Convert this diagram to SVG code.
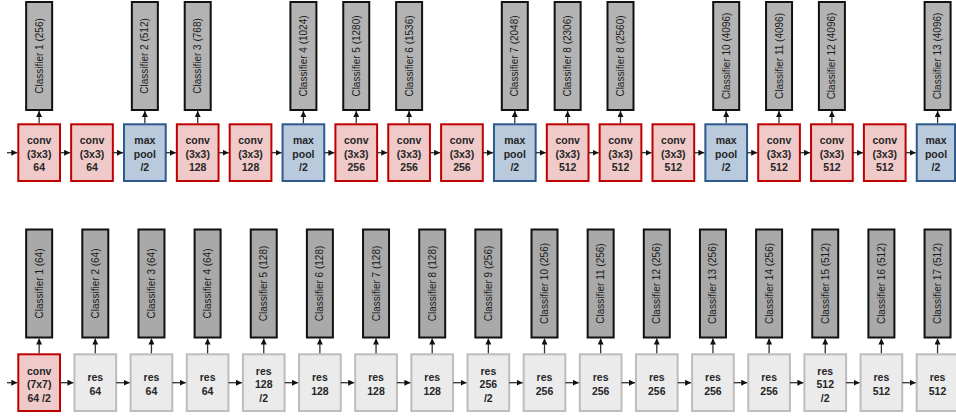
<svg xmlns="http://www.w3.org/2000/svg" width="956" height="417" viewBox="0 0 956 417">
<style>
.conv{fill:#f0c9c9;stroke:#c00000;stroke-width:2}
.pool{fill:#b9cadd;stroke:#2c5a8c;stroke-width:2}
.res{fill:#ebebeb;stroke:#bdbdbd;stroke-width:2}
.cls{fill:#b3b3b3;stroke:#111;stroke-width:2}
.cls2{fill:#a9a9a9;stroke:#111;stroke-width:2}
.lbl{font-family:"Liberation Sans",Arial,sans-serif;font-weight:bold;font-size:10.5px;fill:#262626;text-anchor:middle}
.ct{font-family:"Liberation Sans",Arial,sans-serif;font-size:10px;fill:#1a1a1a;text-anchor:middle}
.c{stroke:#333;stroke-width:1.3;fill:none;marker-end:url(#ah)}
</style>
<defs>
<marker id="ah" markerUnits="userSpaceOnUse" markerWidth="6" markerHeight="6" refX="6" refY="3" orient="auto">
<path d="M0,0 L6,3 L0,6 z" fill="#111"/>
</marker>
</defs>

<g id="top-row">
<g id="t0"><rect class="conv" x="18.3" y="124.3" width="41.7" height="56.7"/><text class="lbl" x="39.15" y="144">conv</text><text class="lbl" x="39.15" y="157.5">(3x3)</text><text class="lbl" x="39.15" y="171">64</text></g>
<g id="t1"><rect class="conv" x="71.15" y="124.3" width="41.7" height="56.7"/><text class="lbl" x="92" y="144">conv</text><text class="lbl" x="92" y="157.5">(3x3)</text><text class="lbl" x="92" y="171">64</text></g>
<g id="t2"><rect class="pool" x="124" y="124.3" width="41.7" height="56.7"/><text class="lbl" x="144.85" y="144">max</text><text class="lbl" x="144.85" y="157.5">pool</text><text class="lbl" x="144.85" y="171">/2</text></g>
<g id="t3"><rect class="conv" x="176.85" y="124.3" width="41.7" height="56.7"/><text class="lbl" x="197.7" y="144">conv</text><text class="lbl" x="197.7" y="157.5">(3x3)</text><text class="lbl" x="197.7" y="171">128</text></g>
<g id="t4"><rect class="conv" x="229.7" y="124.3" width="41.7" height="56.7"/><text class="lbl" x="250.55" y="144">conv</text><text class="lbl" x="250.55" y="157.5">(3x3)</text><text class="lbl" x="250.55" y="171">128</text></g>
<g id="t5"><rect class="pool" x="282.55" y="124.3" width="41.7" height="56.7"/><text class="lbl" x="303.4" y="144">max</text><text class="lbl" x="303.4" y="157.5">pool</text><text class="lbl" x="303.4" y="171">/2</text></g>
<g id="t6"><rect class="conv" x="335.4" y="124.3" width="41.7" height="56.7"/><text class="lbl" x="356.25" y="144">conv</text><text class="lbl" x="356.25" y="157.5">(3x3)</text><text class="lbl" x="356.25" y="171">256</text></g>
<g id="t7"><rect class="conv" x="388.25" y="124.3" width="41.7" height="56.7"/><text class="lbl" x="409.1" y="144">conv</text><text class="lbl" x="409.1" y="157.5">(3x3)</text><text class="lbl" x="409.1" y="171">256</text></g>
<g id="t8"><rect class="conv" x="441.1" y="124.3" width="41.7" height="56.7"/><text class="lbl" x="461.95" y="144">conv</text><text class="lbl" x="461.95" y="157.5">(3x3)</text><text class="lbl" x="461.95" y="171">256</text></g>
<g id="t9"><rect class="pool" x="493.95" y="124.3" width="41.7" height="56.7"/><text class="lbl" x="514.8" y="144">max</text><text class="lbl" x="514.8" y="157.5">pool</text><text class="lbl" x="514.8" y="171">/2</text></g>
<g id="t10"><rect class="conv" x="546.8" y="124.3" width="41.7" height="56.7"/><text class="lbl" x="567.65" y="144">conv</text><text class="lbl" x="567.65" y="157.5">(3x3)</text><text class="lbl" x="567.65" y="171">512</text></g>
<g id="t11"><rect class="conv" x="599.65" y="124.3" width="41.7" height="56.7"/><text class="lbl" x="620.5" y="144">conv</text><text class="lbl" x="620.5" y="157.5">(3x3)</text><text class="lbl" x="620.5" y="171">512</text></g>
<g id="t12"><rect class="conv" x="652.5" y="124.3" width="41.7" height="56.7"/><text class="lbl" x="673.35" y="144">conv</text><text class="lbl" x="673.35" y="157.5">(3x3)</text><text class="lbl" x="673.35" y="171">512</text></g>
<g id="t13"><rect class="pool" x="705.35" y="124.3" width="41.7" height="56.7"/><text class="lbl" x="726.2" y="144">max</text><text class="lbl" x="726.2" y="157.5">pool</text><text class="lbl" x="726.2" y="171">/2</text></g>
<g id="t14"><rect class="conv" x="758.2" y="124.3" width="41.7" height="56.7"/><text class="lbl" x="779.05" y="144">conv</text><text class="lbl" x="779.05" y="157.5">(3x3)</text><text class="lbl" x="779.05" y="171">512</text></g>
<g id="t15"><rect class="conv" x="811.05" y="124.3" width="41.7" height="56.7"/><text class="lbl" x="831.9" y="144">conv</text><text class="lbl" x="831.9" y="157.5">(3x3)</text><text class="lbl" x="831.9" y="171">512</text></g>
<g id="t16"><rect class="conv" x="863.9" y="124.3" width="41.7" height="56.7"/><text class="lbl" x="884.75" y="144">conv</text><text class="lbl" x="884.75" y="157.5">(3x3)</text><text class="lbl" x="884.75" y="171">512</text></g>
<g id="t17"><rect class="pool" x="916.75" y="124.3" width="38.3" height="56.7"/><text class="lbl" x="936" y="144">max</text><text class="lbl" x="936" y="157.5">pool</text><text class="lbl" x="936" y="171">/2</text></g>
</g>

<g id="top-classifiers">
<g id="tc1"><rect class="cls" x="26.15" y="2" width="26" height="108"/><text class="ct" transform="translate(42.65,56) rotate(-90)">Classifier 1 (256)</text></g>
<g id="tc2"><rect class="cls" x="131.85" y="2" width="26" height="108"/><text class="ct" transform="translate(148.35,56) rotate(-90)">Classifier 2 (512)</text></g>
<g id="tc3"><rect class="cls" x="184.7" y="2" width="26" height="108"/><text class="ct" transform="translate(201.2,56) rotate(-90)">Classifier 3 (768)</text></g>
<g id="tc4"><rect class="cls" x="290.4" y="2" width="26" height="108"/><text class="ct" transform="translate(306.9,56) rotate(-90)">Classifier 4 (1024)</text></g>
<g id="tc5"><rect class="cls" x="343.25" y="2" width="26" height="108"/><text class="ct" transform="translate(359.75,56) rotate(-90)">Classifier 5 (1280)</text></g>
<g id="tc6"><rect class="cls" x="396.1" y="2" width="26" height="108"/><text class="ct" transform="translate(412.6,56) rotate(-90)">Classifier 6 (1536)</text></g>
<g id="tc7"><rect class="cls" x="501.8" y="2" width="26" height="108"/><text class="ct" transform="translate(518.3,56) rotate(-90)">Classifier 7 (2048)</text></g>
<g id="tc8a"><rect class="cls" x="554.65" y="2" width="26" height="108"/><text class="ct" transform="translate(571.15,56) rotate(-90)">Classifier 8 (2306)</text></g>
<g id="tc8b"><rect class="cls" x="607.5" y="2" width="26" height="108"/><text class="ct" transform="translate(624,56) rotate(-90)">Classifier 8 (2560)</text></g>
<g id="tc10"><rect class="cls" x="713.2" y="2" width="26" height="108"/><text class="ct" transform="translate(729.7,56) rotate(-90)">Classifier 10 (4096)</text></g>
<g id="tc11"><rect class="cls" x="766.05" y="2" width="26" height="108"/><text class="ct" transform="translate(782.55,56) rotate(-90)">Classifier 11 (4096)</text></g>
<g id="tc12"><rect class="cls" x="818.9" y="2" width="26" height="108"/><text class="ct" transform="translate(835.4,56) rotate(-90)">Classifier 12 (4096)</text></g>
<g id="tc13"><rect class="cls" x="924.6" y="2" width="26" height="108"/><text class="ct" transform="translate(941.1,56) rotate(-90)">Classifier 13 (4096)</text></g>
</g>

<g id="bottom-row">
<g id="b0"><rect class="conv" x="18.3" y="354.3" width="41.7" height="56.7"/><text class="lbl" x="39.15" y="374.5">conv</text><text class="lbl" x="39.15" y="388">(7x7)</text><text class="lbl" x="39.15" y="401.5">64 /2</text></g>
<g id="b1"><rect class="res" x="74.45" y="354.3" width="41.7" height="56.7"/><text class="lbl" x="95.3" y="381">res</text><text class="lbl" x="95.3" y="394.5">64</text></g>
<g id="b2"><rect class="res" x="130.6" y="354.3" width="41.7" height="56.7"/><text class="lbl" x="151.45" y="381">res</text><text class="lbl" x="151.45" y="394.5">64</text></g>
<g id="b3"><rect class="res" x="186.75" y="354.3" width="41.7" height="56.7"/><text class="lbl" x="207.6" y="381">res</text><text class="lbl" x="207.6" y="394.5">64</text></g>
<g id="b4"><rect class="res" x="242.9" y="354.3" width="41.7" height="56.7"/><text class="lbl" x="263.75" y="374.5">res</text><text class="lbl" x="263.75" y="388">128</text><text class="lbl" x="263.75" y="401.5">/2</text></g>
<g id="b5"><rect class="res" x="299.05" y="354.3" width="41.7" height="56.7"/><text class="lbl" x="319.9" y="381">res</text><text class="lbl" x="319.9" y="394.5">128</text></g>
<g id="b6"><rect class="res" x="355.2" y="354.3" width="41.7" height="56.7"/><text class="lbl" x="376.05" y="381">res</text><text class="lbl" x="376.05" y="394.5">128</text></g>
<g id="b7"><rect class="res" x="411.35" y="354.3" width="41.7" height="56.7"/><text class="lbl" x="432.2" y="381">res</text><text class="lbl" x="432.2" y="394.5">128</text></g>
<g id="b8"><rect class="res" x="467.5" y="354.3" width="41.7" height="56.7"/><text class="lbl" x="488.35" y="374.5">res</text><text class="lbl" x="488.35" y="388">256</text><text class="lbl" x="488.35" y="401.5">/2</text></g>
<g id="b9"><rect class="res" x="523.65" y="354.3" width="41.7" height="56.7"/><text class="lbl" x="544.5" y="381">res</text><text class="lbl" x="544.5" y="394.5">256</text></g>
<g id="b10"><rect class="res" x="579.8" y="354.3" width="41.7" height="56.7"/><text class="lbl" x="600.65" y="381">res</text><text class="lbl" x="600.65" y="394.5">256</text></g>
<g id="b11"><rect class="res" x="635.95" y="354.3" width="41.7" height="56.7"/><text class="lbl" x="656.8" y="381">res</text><text class="lbl" x="656.8" y="394.5">256</text></g>
<g id="b12"><rect class="res" x="692.1" y="354.3" width="41.7" height="56.7"/><text class="lbl" x="712.95" y="381">res</text><text class="lbl" x="712.95" y="394.5">256</text></g>
<g id="b13"><rect class="res" x="748.25" y="354.3" width="41.7" height="56.7"/><text class="lbl" x="769.1" y="381">res</text><text class="lbl" x="769.1" y="394.5">256</text></g>
<g id="b14"><rect class="res" x="804.4" y="354.3" width="41.7" height="56.7"/><text class="lbl" x="825.25" y="374.5">res</text><text class="lbl" x="825.25" y="388">512</text><text class="lbl" x="825.25" y="401.5">/2</text></g>
<g id="b15"><rect class="res" x="860.55" y="354.3" width="41.7" height="56.7"/><text class="lbl" x="881.4" y="381">res</text><text class="lbl" x="881.4" y="394.5">512</text></g>
<g id="b16"><rect class="res" x="916.7" y="354.3" width="41.7" height="56.7"/><text class="lbl" x="937.55" y="381">res</text><text class="lbl" x="937.55" y="394.5">512</text></g>
</g>

<g id="bottom-classifiers">
<g id="bc1"><rect class="cls2" x="26.15" y="229.5" width="26" height="108"/><text class="ct" transform="translate(42.65,283.5) rotate(-90)">Classifier 1 (64)</text></g>
<g id="bc2"><rect class="cls2" x="82.3" y="229.5" width="26" height="108"/><text class="ct" transform="translate(98.8,283.5) rotate(-90)">Classifier 2 (64)</text></g>
<g id="bc3"><rect class="cls2" x="138.45" y="229.5" width="26" height="108"/><text class="ct" transform="translate(154.95,283.5) rotate(-90)">Classifier 3 (64)</text></g>
<g id="bc4"><rect class="cls2" x="194.6" y="229.5" width="26" height="108"/><text class="ct" transform="translate(211.1,283.5) rotate(-90)">Classifier 4 (64)</text></g>
<g id="bc5"><rect class="cls2" x="250.75" y="229.5" width="26" height="108"/><text class="ct" transform="translate(267.25,283.5) rotate(-90)">Classifier 5 (128)</text></g>
<g id="bc6"><rect class="cls2" x="306.9" y="229.5" width="26" height="108"/><text class="ct" transform="translate(323.4,283.5) rotate(-90)">Classifier 6 (128)</text></g>
<g id="bc7"><rect class="cls2" x="363.05" y="229.5" width="26" height="108"/><text class="ct" transform="translate(379.55,283.5) rotate(-90)">Classifier 7 (128)</text></g>
<g id="bc8"><rect class="cls2" x="419.2" y="229.5" width="26" height="108"/><text class="ct" transform="translate(435.7,283.5) rotate(-90)">Classifier 8 (128)</text></g>
<g id="bc9"><rect class="cls2" x="475.35" y="229.5" width="26" height="108"/><text class="ct" transform="translate(491.85,283.5) rotate(-90)">Classifier 9 (256)</text></g>
<g id="bc10"><rect class="cls2" x="531.5" y="229.5" width="26" height="108"/><text class="ct" transform="translate(548,283.5) rotate(-90)">Classifier 10 (256)</text></g>
<g id="bc11"><rect class="cls2" x="587.65" y="229.5" width="26" height="108"/><text class="ct" transform="translate(604.15,283.5) rotate(-90)">Classifier 11 (256)</text></g>
<g id="bc12"><rect class="cls2" x="643.8" y="229.5" width="26" height="108"/><text class="ct" transform="translate(660.3,283.5) rotate(-90)">Classifier 12 (256)</text></g>
<g id="bc13"><rect class="cls2" x="699.95" y="229.5" width="26" height="108"/><text class="ct" transform="translate(716.45,283.5) rotate(-90)">Classifier 13 (256)</text></g>
<g id="bc14"><rect class="cls2" x="756.1" y="229.5" width="26" height="108"/><text class="ct" transform="translate(772.6,283.5) rotate(-90)">Classifier 14 (256)</text></g>
<g id="bc15"><rect class="cls2" x="812.25" y="229.5" width="26" height="108"/><text class="ct" transform="translate(828.75,283.5) rotate(-90)">Classifier 15 (512)</text></g>
<g id="bc16"><rect class="cls2" x="868.4" y="229.5" width="26" height="108"/><text class="ct" transform="translate(884.9,283.5) rotate(-90)">Classifier 16 (512)</text></g>
<g id="bc17"><rect class="cls2" x="924.55" y="229.5" width="26" height="108"/><text class="ct" transform="translate(941.05,283.5) rotate(-90)">Classifier 17 (512)</text></g>
</g>

<g id="connectors">
<path class="c" d="M7,152.7 H17.3"/>
<path class="c" d="M60,152.7 H70.15"/>
<path class="c" d="M112.85,152.7 H123"/>
<path class="c" d="M165.7,152.7 H175.85"/>
<path class="c" d="M218.55,152.7 H228.7"/>
<path class="c" d="M271.4,152.7 H281.55"/>
<path class="c" d="M324.25,152.7 H334.4"/>
<path class="c" d="M377.1,152.7 H387.25"/>
<path class="c" d="M429.95,152.7 H440.1"/>
<path class="c" d="M482.8,152.7 H492.95"/>
<path class="c" d="M535.65,152.7 H545.8"/>
<path class="c" d="M588.5,152.7 H598.65"/>
<path class="c" d="M641.35,152.7 H651.5"/>
<path class="c" d="M694.2,152.7 H704.35"/>
<path class="c" d="M747.05,152.7 H757.2"/>
<path class="c" d="M799.9,152.7 H810.05"/>
<path class="c" d="M852.75,152.7 H862.9"/>
<path class="c" d="M905.6,152.7 H915.75"/>

<path class="c" d="M39.15,123.3 V111"/>
<path class="c" d="M144.85,123.3 V111"/>
<path class="c" d="M197.7,123.3 V111"/>
<path class="c" d="M303.4,123.3 V111"/>
<path class="c" d="M356.25,123.3 V111"/>
<path class="c" d="M409.1,123.3 V111"/>
<path class="c" d="M514.8,123.3 V111"/>
<path class="c" d="M567.65,123.3 V111"/>
<path class="c" d="M620.5,123.3 V111"/>
<path class="c" d="M726.2,123.3 V111"/>
<path class="c" d="M779.05,123.3 V111"/>
<path class="c" d="M831.9,123.3 V111"/>
<path class="c" d="M937.6,123.3 V111"/>

<path class="c" d="M7,382.7 H17.3"/>
<path class="c" d="M60,382.7 H73.45"/>
<path class="c" d="M116.15,382.7 H129.6"/>
<path class="c" d="M172.3,382.7 H185.75"/>
<path class="c" d="M228.45,382.7 H241.9"/>
<path class="c" d="M284.6,382.7 H298.05"/>
<path class="c" d="M340.75,382.7 H354.2"/>
<path class="c" d="M396.9,382.7 H410.35"/>
<path class="c" d="M453.05,382.7 H466.5"/>
<path class="c" d="M509.2,382.7 H522.65"/>
<path class="c" d="M565.35,382.7 H578.8"/>
<path class="c" d="M621.5,382.7 H634.95"/>
<path class="c" d="M677.65,382.7 H691.1"/>
<path class="c" d="M733.8,382.7 H747.25"/>
<path class="c" d="M789.95,382.7 H803.4"/>
<path class="c" d="M846.1,382.7 H859.55"/>
<path class="c" d="M902.25,382.7 H915.7"/>

<path class="c" d="M39.15,353.3 V338.5"/>
<path class="c" d="M95.3,353.3 V338.5"/>
<path class="c" d="M151.45,353.3 V338.5"/>
<path class="c" d="M207.6,353.3 V338.5"/>
<path class="c" d="M263.75,353.3 V338.5"/>
<path class="c" d="M319.9,353.3 V338.5"/>
<path class="c" d="M376.05,353.3 V338.5"/>
<path class="c" d="M432.2,353.3 V338.5"/>
<path class="c" d="M488.35,353.3 V338.5"/>
<path class="c" d="M544.5,353.3 V338.5"/>
<path class="c" d="M600.65,353.3 V338.5"/>
<path class="c" d="M656.8,353.3 V338.5"/>
<path class="c" d="M712.95,353.3 V338.5"/>
<path class="c" d="M769.1,353.3 V338.5"/>
<path class="c" d="M825.25,353.3 V338.5"/>
<path class="c" d="M881.4,353.3 V338.5"/>
<path class="c" d="M937.55,353.3 V338.5"/>
</g>
</svg>
